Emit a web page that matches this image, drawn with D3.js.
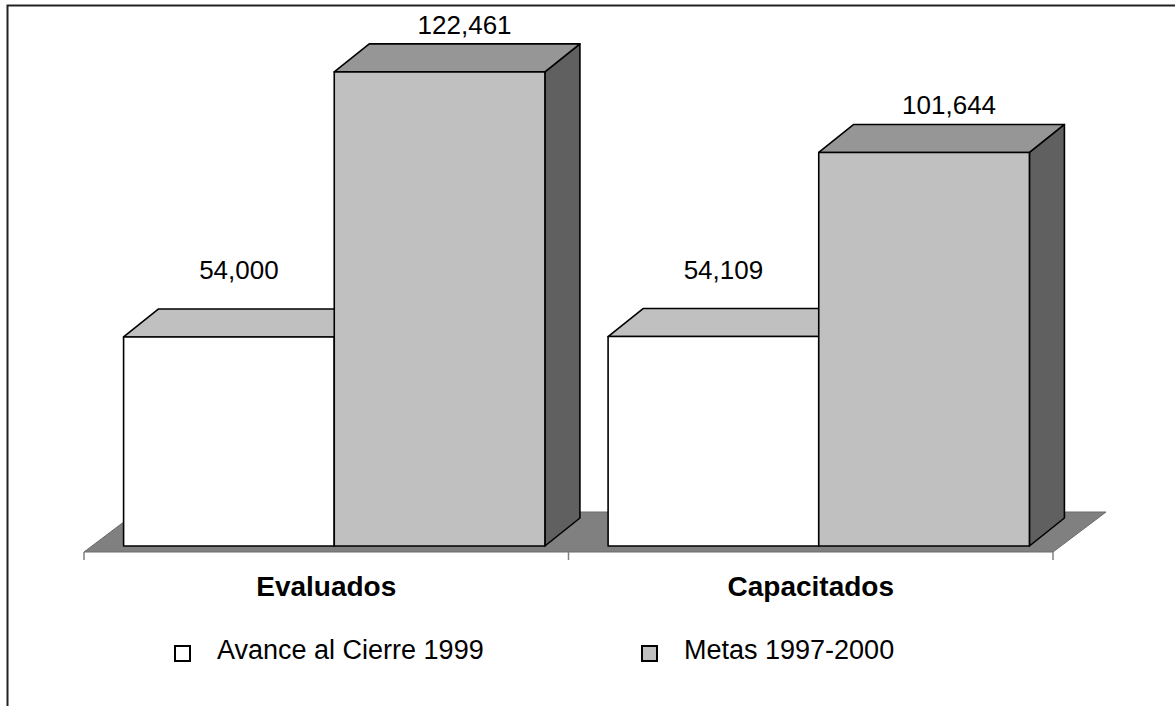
<!DOCTYPE html>
<head>
  <meta charset="utf-8">
  <script src="https://cdn.jsdelivr.net/npm/d3@7"></script>
  <style>
    body { margin:0; background:#fff; }
    svg { display:block; font-family:"Liberation Sans", Arial, sans-serif; }
  </style>
</head>

<body>
  <script>
    // chart data
    var categories = ["Evaluados", "Capacitados"];
    var seriesNames = ["Avance al Cierre 1999", "Metas 1997-2000"];
    var avance = [54000, 54109];
    var metas = [122461, 101644];
    var seriesValues = [avance, metas];

    var width = 1175, height = 706;
    var fmt = d3.format(",");

    // colours: front, top, side
    var colors = [
      { front: "#ffffff", top: "#c0c0c0", side: "#a0a0a0" },
      { front: "#c0c0c0", top: "#969696", side: "#606060" }
    ];

    var svg = d3.select("body").append("svg")
      .attr("width", width)
      .attr("height", height);

    // outer frame (runs off the right and bottom)
    svg.append("path")
      .attr("d", "M7.5," + height + "V5.5H" + width)
      .attr("fill", "none")
      .attr("stroke", "#222")
      .attr("stroke-width", 2);

    // floor / depth geometry
    var axisY = 552;
    var floorDx = 53, floorDy = 40;
    var barOffX = 8, barOffY = 6;   // bars sit a bit back from the floor front edge
    var depthX = 35, depthY = 28;   // bar depth

    var x0 = d3.scaleBand()
      .domain(categories)
      .range([84, 1053]);

    var bw = x0.bandwidth();
    var x1 = d3.scaleBand()
      .domain(d3.range(seriesNames.length))
      .range([bw * 0.0652, bw * 0.9348])
      .padding(0);

    var y = d3.scaleLinear()
      .domain([0, 140000])
      .range([axisY - barOffY, 4]);

    // floor
    var fx0 = x0.range()[0], fx1 = x0.range()[1];
    svg.append("polygon")
      .attr("points", [
        [fx0, axisY], [fx1, axisY],
        [fx1 + floorDx, axisY - floorDy], [fx0 + floorDx, axisY - floorDy]
      ].map(function (p) { return p.join(","); }).join(" "))
      .attr("fill", "#808080")
      .attr("stroke", "#6a6a6a")
      .attr("stroke-width", 1);

    // category axis ticks
    var tickXs = [fx0].concat(categories.map(function (c) { return x0(c) + bw; }));
    svg.selectAll("line.tick")
      .data(tickXs).enter()
      .append("line")
      .attr("class", "tick")
      .attr("x1", function (d) { return d; })
      .attr("x2", function (d) { return d; })
      .attr("y1", axisY)
      .attr("y2", axisY + 8)
      .attr("stroke", "#808080")
      .attr("stroke-width", 1.5);

    // bars
    var bars = [];
    categories.forEach(function (c, ci) {
      seriesValues.forEach(function (vals, si) {
        bars.push({ cat: c, s: si, v: vals[ci] });
      });
    });

    var g = svg.append("g")
      .attr("stroke", "#000")
      .attr("stroke-width", 1.6)
      .attr("stroke-linejoin", "round");

    bars.forEach(function (d) {
      var left = x0(d.cat) + x1(d.s) + barOffX;
      var right = left + x1.bandwidth();
      var top = y(d.v);
      var bottom = y(0);
      var col = colors[d.s];

      // side face
      g.append("polygon")
        .attr("points", [[right, bottom], [right + depthX, bottom - depthY],
          [right + depthX, top - depthY], [right, top]].map(String).join(" "))
        .attr("fill", col.side);
      // top face
      g.append("polygon")
        .attr("points", [[left, top], [right, top], [right + depthX, top - depthY],
          [left + depthX, top - depthY]].map(String).join(" "))
        .attr("fill", col.top);
      // front face
      g.append("rect")
        .attr("x", left)
        .attr("y", top)
        .attr("width", right - left)
        .attr("height", bottom - top)
        .attr("fill", col.front);
    });

    // value labels
    var labelDx = [10, 25], labelDy = [58, 38];
    svg.selectAll("text.value")
      .data(bars).enter()
      .append("text")
      .attr("class", "value")
      .attr("x", function (d) { return x0(d.cat) + x1(d.s) + barOffX + x1.bandwidth() / 2 + labelDx[d.s]; })
      .attr("y", function (d) { return y(d.v) - labelDy[d.s]; })
      .attr("text-anchor", "middle")
      .attr("font-size", 26)
      .attr("fill", "#000")
      .text(function (d) { return fmt(d.v); });

    // category labels
    svg.selectAll("text.cat")
      .data(categories).enter()
      .append("text")
      .attr("class", "cat")
      .attr("x", function (d) { return x0(d) + bw / 2; })
      .attr("y", 596)
      .attr("text-anchor", "middle")
      .attr("font-size", 28)
      .attr("font-weight", "bold")
      .text(function (d) { return d; });

    // legend
    var legendX = [175, 642];
    var legend = svg.selectAll("g.legend")
      .data(seriesNames).enter()
      .append("g")
      .attr("class", "legend")
      .attr("transform", function (d, i) { return "translate(" + legendX[i] + ",646)"; });

    legend.append("rect")
      .attr("width", 15)
      .attr("height", 15)
      .attr("fill", function (d, i) { return colors[i].front; })
      .attr("stroke", "#000")
      .attr("stroke-width", 2);

    legend.append("text")
      .attr("x", 42)
      .attr("y", 13)
      .attr("font-size", 27)
      .text(function (d) { return d; });
  </script>
</body>
</html>
